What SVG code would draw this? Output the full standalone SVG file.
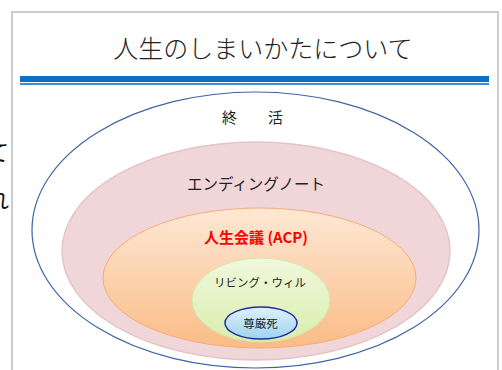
<svg xmlns="http://www.w3.org/2000/svg" width="502" height="370" viewBox="0 0 502 370">
<defs>
<style>
.jp{font-family:"Noto Sans CJK JP","Noto Sans",sans-serif;}
.t{fill:#222;text-anchor:middle;}
</style>
<linearGradient id="gOr" x1="0" y1="0" x2="0" y2="1">
<stop offset="0" stop-color="#fde8d5"/>
<stop offset="1" stop-color="#fbbc86"/>
</linearGradient>
<linearGradient id="gGr" x1="0" y1="0" x2="0" y2="1">
<stop offset="0" stop-color="#f0f8dc"/>
<stop offset="1" stop-color="#d9eeae"/>
</linearGradient>
<linearGradient id="gBl" x1="0" y1="0" x2="0" y2="1">
<stop offset="0" stop-color="#dff1fb"/>
<stop offset="1" stop-color="#9fd3f0"/>
</linearGradient>
</defs>
<rect width="502" height="370" fill="#fff"/>
<g id="behind">
<text class="jp" x="-14" y="161" font-size="23" fill="#111">て</text>
<text class="jp" x="-14" y="208" font-size="23" fill="#111">れ</text>
</g>
<g id="frame">
<rect x="12" y="12" width="486" height="370" fill="#fff" stroke="#cccccc" stroke-width="2"/>
<text class="jp t" x="263" y="58" font-size="25" font-weight="300">人生のしまいかたについて</text>
<rect x="20" y="76" width="469" height="6" fill="#0f6fc2"/>
<rect x="20" y="83" width="469" height="2" fill="#3a8fd6"/>
</g>
<g id="shukatsu">
<ellipse cx="255.5" cy="230" rx="223.5" ry="138" fill="#fff" stroke="#3d64a6" stroke-width="1.2"/>
<text class="jp" x="222" y="123" font-size="15" fill="#222">終</text>
<text class="jp" x="268" y="123" font-size="15" fill="#222">活</text>
</g>
<g id="ending-note">
<ellipse cx="256" cy="251" rx="194" ry="109" fill="#f1d6d9" stroke="#e5c3c7" stroke-width="1.5"/>
<text class="jp t" x="256" y="190" font-size="15.5">エンディングノート</text>
</g>
<g id="acp">
<ellipse cx="259.5" cy="278" rx="156.5" ry="70" fill="url(#gOr)" stroke="#f2ad78" stroke-width="1"/>
<text class="jp" x="256" y="243" font-size="15" font-weight="bold" fill="#ff0000" text-anchor="middle">人生会議 (ACP)</text>
</g>
<g id="living-will">
<ellipse cx="261" cy="300" rx="69" ry="42" fill="url(#gGr)" stroke="#d3e8a8" stroke-width="1"/>
<text class="jp t" x="260" y="287" font-size="11.5">リビング・ウィル</text>
</g>
<g id="songenshi">
<ellipse cx="261" cy="323" rx="36" ry="16" fill="url(#gBl)" stroke="#1f2d9e" stroke-width="1.5"/>
<text class="jp t" x="260.5" y="328" font-size="11.5">尊厳死</text>
</g>
<g id="connectors"/>
</svg>
